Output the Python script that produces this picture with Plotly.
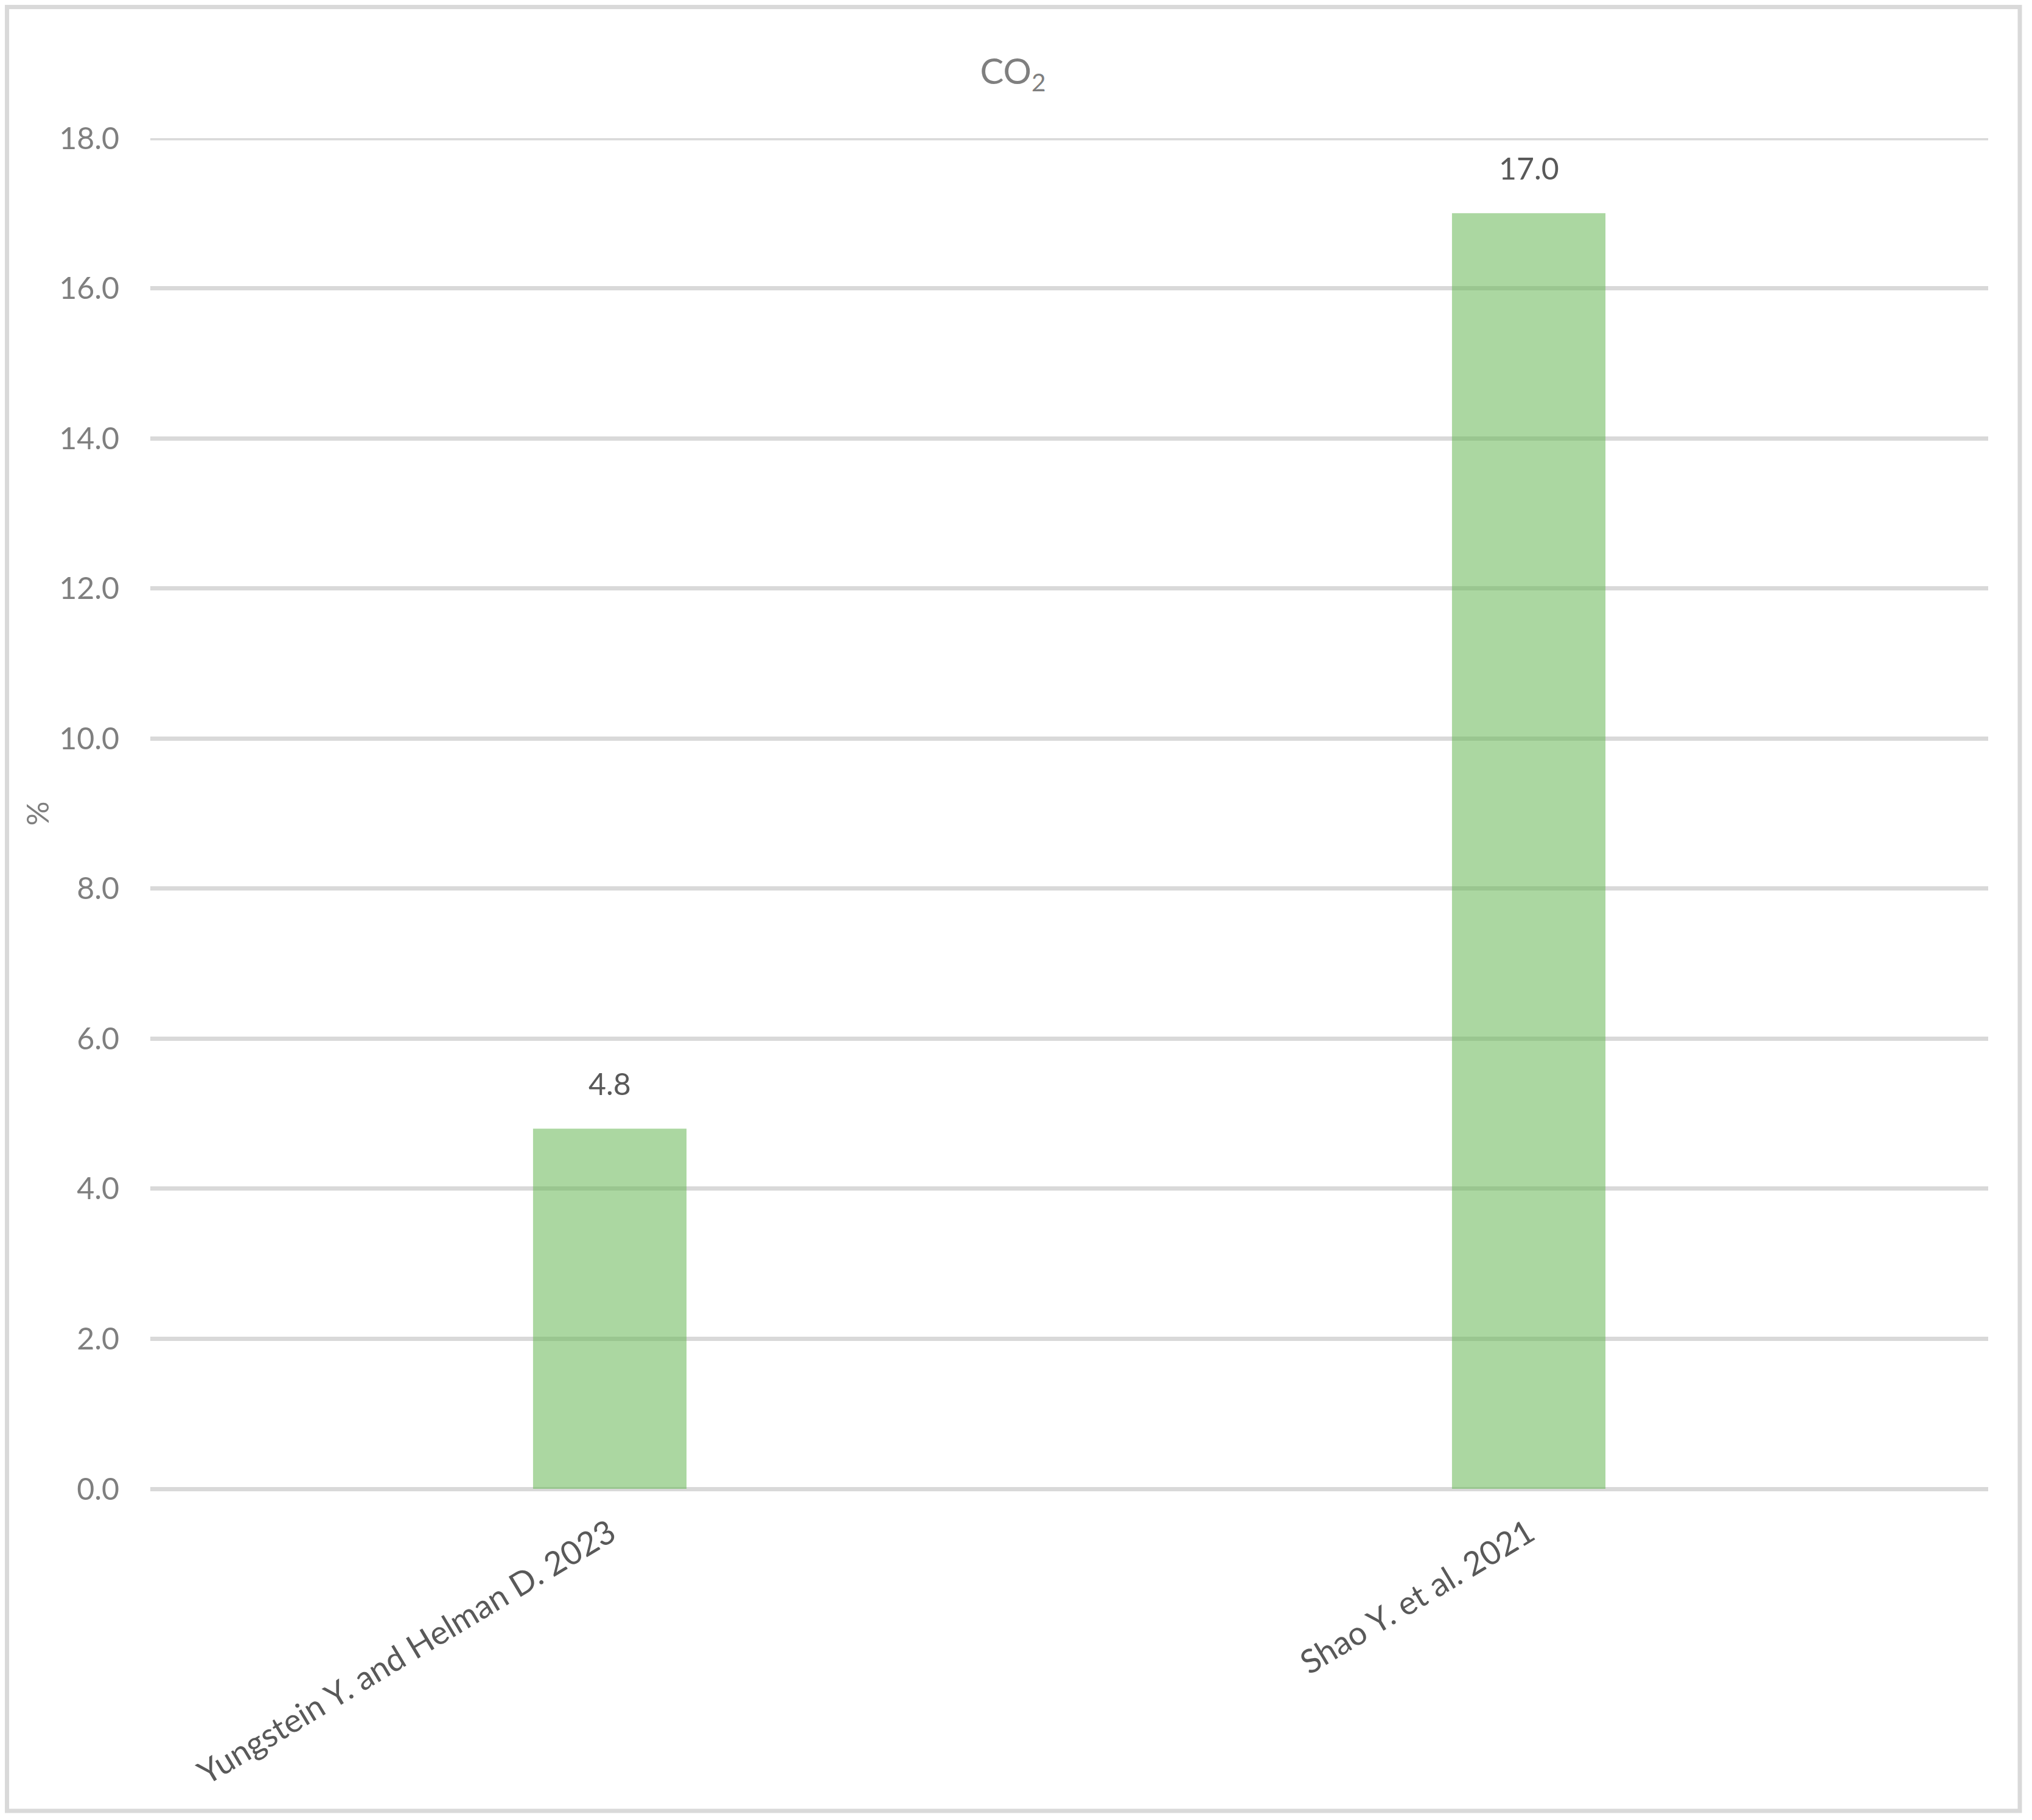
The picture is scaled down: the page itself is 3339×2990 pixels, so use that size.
import plotly.graph_objects as go

categories = ["Yungstein Y. and Helman D. 2023", "Shao Y. et al. 2021"]
values = [4.8, 17.0]
value_labels = ["4.8", "17.0"]
y_ticks = [0, 2, 4, 6, 8, 10, 12, 14, 16, 18]
y_tick_labels = ["0.0", "2.0", "4.0", "6.0", "8.0", "10.0", "12.0", "14.0", "16.0", "18.0"]

W, H = 3339, 2990
ML, MR, MT, MB = 247, 72, 227, 544
PW = W - ML - MR
PH = H - MT - MB
FONT = "Lato"
GRID = "#d9d9d9"

fig = go.Figure()
fig.add_trace(go.Bar(
    x=categories, y=values,
    marker=dict(color="rgba(102,182,84,0.55)", line=dict(width=0)),
    hoverinfo="skip",
))

for c, v, t in zip(categories, values, value_labels):
    fig.add_annotation(x=c, y=v, text=t, showarrow=False, yanchor="bottom",
                       yshift=42, font=dict(family=FONT, size=50, color="#595959"))

# top gridline (plotly hides the grid line lying on the plot edge)
fig.add_shape(type="line", xref="paper", yref="y", x0=0, x1=1,
              y0=y_ticks[-1], y1=y_ticks[-1], line=dict(color=GRID, width=7), layer="below")

# outer border of the chart area
def px_to_paper_x(px):
    return (px - ML) / PW

def px_to_paper_y(py):
    return (H - MB - py) / PH

fig.add_shape(type="rect", xref="paper", yref="paper",
              x0=px_to_paper_x(11.5), x1=px_to_paper_x(3319),
              y0=px_to_paper_y(2975), y1=px_to_paper_y(11.5),
              line=dict(color=GRID, width=7), fillcolor="rgba(0,0,0,0)", layer="below")

fig.update_layout(
    width=W, height=H,
    margin=dict(l=ML, r=MR, t=MT, b=MB, autoexpand=False),
    paper_bgcolor="white", plot_bgcolor="white",
    showlegend=False,
    bargap=0.833,
    title=dict(text="CO<sub>2</sub>", x=0.4985, xref="container", xanchor="center",
               y=1 - 118 / H, yanchor="middle",
               font=dict(family=FONT, size=58, color="#7f7f7f")),
    font=dict(family=FONT),
    xaxis=dict(
        type="category", showgrid=False, showline=False, zeroline=False,
        ticks="", tickangle=-31,
        tickfont=dict(family=FONT, size=54, color="#595959"),
        ticklabelstandoff=30,
    ),
    yaxis=dict(
        range=[0, 18], tickvals=y_ticks, ticktext=y_tick_labels,
        showgrid=True, gridcolor=GRID, gridwidth=7,
        zeroline=True, zerolinecolor=GRID, zerolinewidth=7,
        showline=False, ticks="",
        tickfont=dict(family=FONT, size=50, color="#7f7f7f"),
        ticklabelstandoff=50,
        title=dict(text="%", font=dict(family=FONT, size=50, color="#7f7f7f"), standoff=0),
    ),
)

fig.write_html("out.html", config={"displayModeBar": False},
               post_script="document.body.style.margin='0px';")
